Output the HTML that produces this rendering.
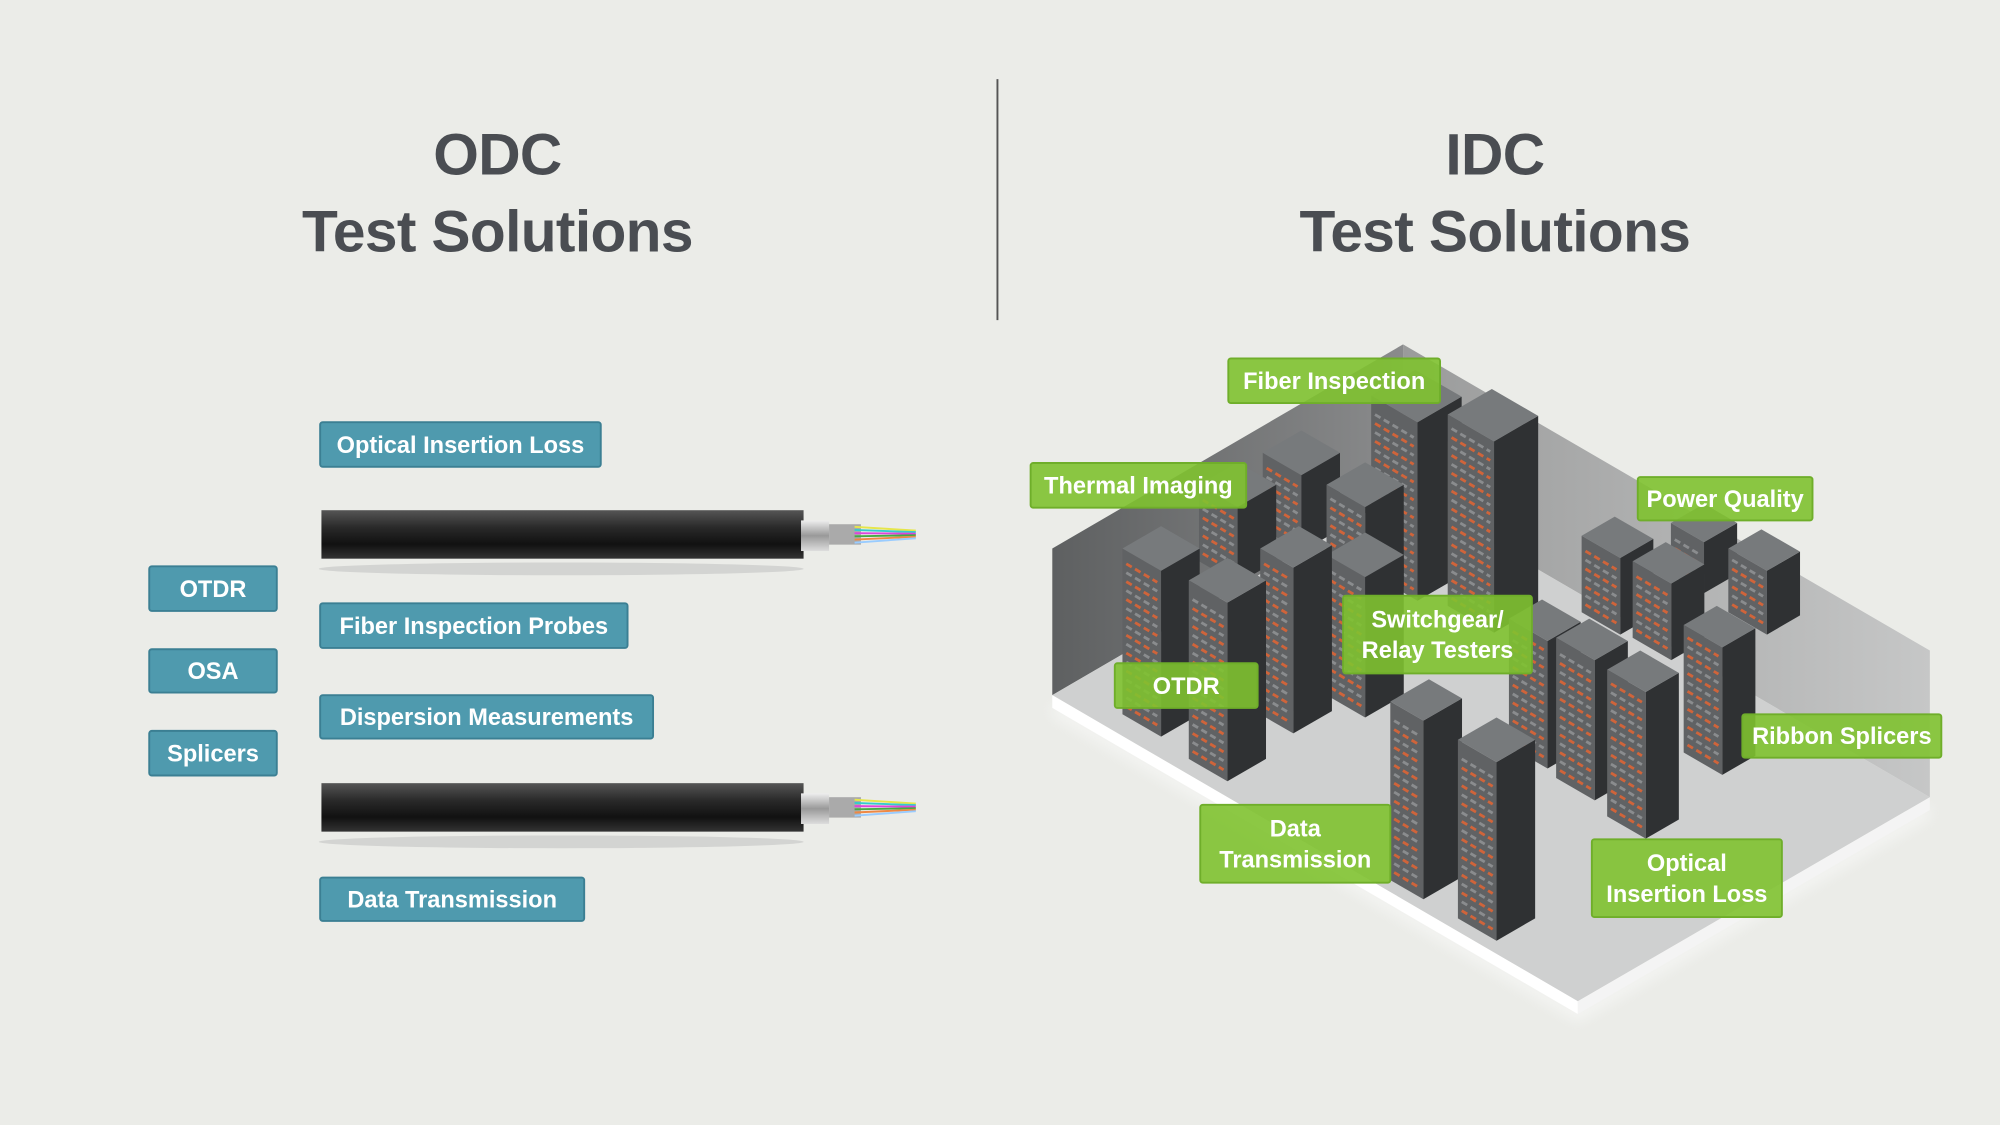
<!DOCTYPE html>
<html><head><meta charset="utf-8"><style>
html,body{margin:0;padding:0;background:#ebece8;}
svg{display:block}
text{font-family:"Liberation Sans",sans-serif;font-weight:bold}
</style></head><body>
<svg id="s" width="2000" height="1125" viewBox="0 0 1568 882" xmlns="http://www.w3.org/2000/svg">
<defs>
<linearGradient id="cab" x1="0" y1="0" x2="0" y2="1">
<stop offset="0" stop-color="#555"/><stop offset="0.35" stop-color="#2a2a2a"/><stop offset="0.7" stop-color="#111"/><stop offset="1" stop-color="#333"/></linearGradient>
<linearGradient id="fer" x1="0" y1="0" x2="0" y2="1">
<stop offset="0" stop-color="#eee"/><stop offset="0.5" stop-color="#999"/><stop offset="1" stop-color="#ddd"/></linearGradient>
<linearGradient id="lw" x1="0" y1="0" x2="1" y2="0"><stop offset="0" stop-color="#5e6061"/><stop offset="1" stop-color="#8a8b8c"/></linearGradient>
<linearGradient id="rw" x1="0" y1="0" x2="1" y2="0"><stop offset="0" stop-color="#9a9b9b"/><stop offset="1" stop-color="#c6c7c7"/></linearGradient>
<filter id="sh"><feGaussianBlur stdDeviation="5"/></filter>
</defs>
<rect width="1568" height="882" fill="#ebece8"/>
<line x1="782" y1="62" x2="782" y2="251" stroke="#555" stroke-width="1.5"/>
<g fill="#4a4d52" font-size="46" text-anchor="middle" letter-spacing="-0.5">
<text x="390" y="137">ODC</text><text x="390" y="197">Test Solutions</text>
<text x="1172" y="137">IDC</text><text x="1172" y="197">Test Solutions</text>
</g>
<g id="cables"></g>
<g id="blue"></g>
<polygon points="825,555 1237,795 1513,635 1513,625 1237,785 825,545" fill="#fff" filter="url(#sh)" opacity="0.5" transform="translate(0,6)"/>
<polygon points="825,430 1100,270 1100,385 825,545" fill="url(#lw)"/>
<polygon points="1100,270 1513,510 1513,625 1100,385" fill="url(#rw)"/>
<polygon points="825,545 1100,385 1513,625 1237,785" fill="#cfd0d0"/>
<polygon points="825,545 1237,785 1237,795 825,555" fill="#fff"/>
<polygon points="1237,785 1513,625 1513,635 1237,795" fill="#f4f4f4"/>
<g id="racks"></g>
<g id="green"></g>
</svg>
<script>
var NS="http://www.w3.org/2000/svg";
function el(p,t,a,txt){var e=document.createElementNS(NS,t);for(var k in a)e.setAttribute(k,a[k]);if(txt)e.textContent=txt;document.getElementById(p).appendChild(e);return e;}
[[400],[614]].forEach(function(c){var y=c[0];
el("cables","rect",{x:252,y:y,width:378,height:38,fill:"url(#cab)"});
el("cables","ellipse",{cx:440,cy:y+46,rx:190,ry:5,fill:"#bbb",opacity:"0.5"});
el("cables","rect",{x:628,y:y+8,width:22,height:24,fill:"url(#fer)"});
el("cables","rect",{x:650,y:y+11,width:25,height:16,fill:"#aaa"});
var cols=["#e6e64a","#3cc","#d4d","#4a4","#e84","#9cf"];
cols.forEach(function(cl,i){el("cables","line",{x1:670,y1:y+13+i*2.5,x2:718,y2:y+16+i*1.2,stroke:cl,"stroke-width":1.5});});
});
function lab(g,x1,y1,x2,y2,lines,fill,stroke){
el(g,"rect",{x:x1,y:y1,width:x2-x1,height:y2-y1,fill:fill,stroke:stroke,"stroke-width":1.5,rx:2});
var cx=(x1+x2)/2,n=lines.length,h=y2-y1;
lines.forEach(function(t,i){el(g,"text",{x:cx,y:y1+h/2+(i-(n-1)/2)*24+6.5,"font-size":18.5,fill:"#fff","text-anchor":"middle"},t);});
}
var B="#4f9aae",BS="#3b7f93";
lab("blue",251,331,471,366,["Optical Insertion Loss"],B,BS);
lab("blue",117,444,217,479,["OTDR"],B,BS);
lab("blue",251,473,492,508,["Fiber Inspection Probes"],B,BS);
lab("blue",117,509,217,543,["OSA"],B,BS);
lab("blue",251,545,512,579,["Dispersion Measurements"],B,BS);
lab("blue",117,573,217,608,["Splicers"],B,BS);
lab("blue",251,688,458,722,["Data Transmission"],B,BS);
var ux=0.865,uy=0.5,vx=0.865,vy=-0.5;
function rack(x,y,w,d,h){
var A=[x,y],Bp=[x+w*ux,y+w*uy],C=[Bp[0]+d*vx,Bp[1]+d*vy];
function P(p,dy){return p[0]+","+(p[1]+dy);}
var D=[x+d*vx,y+d*vy];
el("racks","polygon",{points:P(A,0)+" "+P(Bp,0)+" "+P(Bp,-h)+" "+P(A,-h),fill:"#606264"});
el("racks","polygon",{points:P(Bp,0)+" "+P(C,0)+" "+P(C,-h)+" "+P(Bp,-h),fill:"#2f3133"});
el("racks","polygon",{points:P(A,-h)+" "+P(Bp,-h)+" "+P(C,-h)+" "+P(D,-h),fill:"#777a7c"});
for(var k=8;k<h-6;k+=7){
el("racks","line",{x1:A[0]+3,y1:A[1]-k+2,x2:Bp[0]-3,y2:Bp[1]-k-1,stroke:(k/7|0)%2==0?"#8a8c8e":"#d0643a","stroke-width":2.2,"stroke-dasharray":"5 3"});}
}
var R=[[1075,450,42,40,140],[1135,475,42,40,150],[940,440,35,35,60],[990,415,35,35,60],[1040,460,35,35,80],
[1240,480,35,30,60],[1280,500,35,30,60],[1310,450,30,30,40],[1355,480,35,30,50],
[880,560,35,35,130],[988,560,30,35,130],[932,595,35,35,140],[1040,545,35,35,110],
[1183,585,35,30,100],[1320,590,35,30,100],[1220,610,35,30,110],[1260,640,35,30,115],
[1090,690,30,35,140],[1143,720,35,35,140]];
R.sort(function(a,b){return a[1]-b[1];});
R.forEach(function(r){rack.apply(null,r);});
var G="rgba(128,194,48,0.9)",GS="#6fae2a";
lab("green",963,281,1129,316,["Fiber Inspection"],G,GS);
lab("green",808,363,977,398,["Thermal Imaging"],G,GS);
lab("green",1284,374,1421,408,["Power Quality"],G,GS);
lab("green",1053,467,1201,528,["Switchgear/","Relay Testers"],G,GS);
lab("green",874,520,986,555,["OTDR"],G,GS);
lab("green",1366,560,1522,594,["Ribbon Splicers"],G,GS);
lab("green",941,631,1090,692,["Data","Transmission"],G,GS);
lab("green",1248,658,1397,719,["Optical","Insertion Loss"],G,GS);
</script>
</body></html>
